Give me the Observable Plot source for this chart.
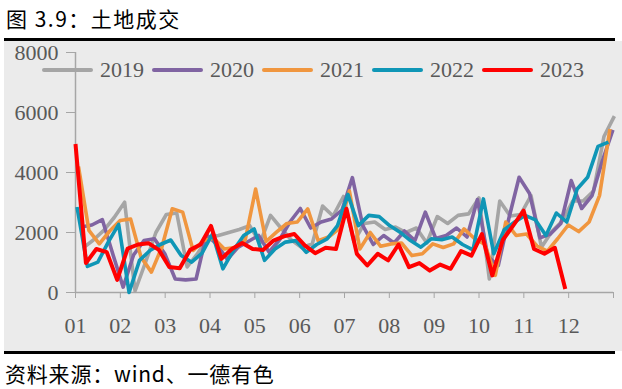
<!DOCTYPE html>
<html><head><meta charset="utf-8">
<script src="https://cdn.jsdelivr.net/npm/d3@7"></script>
<script src="https://cdn.jsdelivr.net/npm/@observablehq/plot@0.6"></script>
<style>
html,body{margin:0;padding:0;background:#fff;}
body{width:622px;height:389px;position:relative;font-family:"Noto Sans CJK SC",sans-serif;}
#title{position:absolute;left:6px;top:5px;font-size:21px;line-height:26px;letter-spacing:1.5px;color:#000;white-space:nowrap;}
.rule{position:absolute;left:4px;width:611px;height:3px;background:#000;}
#panel{position:absolute;left:4px;top:41px;width:618px;height:310px;background:#ebebeb;}
#chart{position:absolute;left:0;top:41px;}
#legend{position:absolute;left:42px;top:58px;height:24px;display:flex;align-items:center;font-family:"Liberation Serif",serif;font-size:22px;line-height:24px;color:#595959;white-space:nowrap;}
#legend .sw{display:inline-block;width:51px;height:4px;border-radius:2px;margin-right:7px;}
#legend .lb{display:inline-block;width:43px;margin-right:9px;}
#caption{position:absolute;left:5px;top:362px;font-size:21px;line-height:22px;letter-spacing:0.8px;color:#000;white-space:nowrap;}
</style></head>
<body>
<div id="title">图 3.9：土地成交</div>
<div class="rule" style="top:38px"></div>
<div id="panel"></div>
<div id="chart"></div>
<div id="legend"></div>
<div class="rule" style="top:351px"></div>
<div id="caption">资料来源：wind、一德有色</div>
<script>
// ---- data (weekly land transactions, by year) ----
const years = ["2019", "2020", "2021", "2022", "2023"];
const colors = ["#a5a5a5", "#8064a2", "#f0963f", "#0f96b6", "#ff0000"];
// first weekly date of each year, as day offset from Jan 1
const startDays = [5, 4, 2, 1, 0];
const v2019 = [1480, 1750, 2070, 2500, 3010, 50, 1000, 2000, 2600, 2650, 850, 1300, 1840, 1900, 2000, 2100, 2230, 1650, 2570, 2150, 1750, 1500, 1620, 2880, 2550, 3200, 1700, 2300, 2350, 2100, 2180, 2000, 2150, 1650, 2530, 2300, 2570, 2620, 3150, 450, 3050, 2550, 2600, 3230, 1510, 2030, 2380, 3050, 3050, 3380, 5200, 5880];
const v2020 = [2180, 2250, 2430, 1290, 180, 1250, 1730, 1790, 1290, 450, 420, 450, 1930, 1600, 1100, 1500, 1700, 1900, 1350, 1750, 2350, 2800, 2150, 2350, 2450, 2750, 3830, 2230, 1600, 1900, 1650, 2050, 1730, 2680, 1800, 1900, 2150, 1850, 3100, 1200, 900, 2450, 3840, 3300, 1820, 1950, 2300, 3730, 2800, 3230, 4400, 5420];
const v2021 = [4200, 2070, 1620, 2050, 2400, 2450, 1180, 680, 1510, 2790, 2680, 1400, 1730, 1800, 1450, 1500, 1750, 3450, 1700, 2010, 2300, 2350, 2790, 1730, 1850, 2120, 3380, 1450, 2000, 1540, 1620, 1650, 1230, 1290, 1620, 1500, 1620, 2120, 1800, 1600, 570, 2350, 1900, 1950, 1550, 1380, 1800, 2250, 2030, 2350, 3230, 5450];
const v2022 = [2850, 870, 1010, 1680, 2270, 0, 1070, 1400, 1600, 1750, 1230, 1010, 1310, 1950, 790, 1400, 1900, 2120, 1070, 1450, 1680, 1730, 1340, 1600, 1790, 2230, 3270, 2230, 2570, 2530, 2230, 2010, 1730, 1510, 1790, 1760, 1850, 1600, 1420, 3120, 1290, 2090, 2350, 2570, 2420, 1900, 2650, 2350, 3450, 3840, 4870, 5010];
const v2023 = [4950, 980, 1450, 1345, 420, 1460, 1600, 1645, 1420, 850, 810, 1420, 1600, 2220, 1120, 1450, 1650, 1450, 1420, 1730, 1870, 1950, 1570, 1310, 1490, 1450, 2790, 1290, 900, 1290, 1070, 1600, 845, 980, 730, 930, 790, 1380, 1230, 1950, 570, 1750, 2230, 2730, 1450, 1290, 1490, 120];
const seriesValues = [v2019, v2020, v2021, v2022, v2023];
const monthLabels = ["01", "02", "03", "04", "05", "06", "07", "08", "09", "10", "11", "12", ""];
const yTicks = [0, 2000, 4000, 6000, 8000];
const xSpanDays = 361.4;

// ---- build ----
const monthTicks = monthLabels.map((m, k) => k * xSpanDays / 12);
const labelOf = new Map(monthTicks.map((t, k) => [t, monthLabels[k]]));
const rows = seriesValues.map((vals, s) => vals.map((v, i) => ({x: startDays[s] + 7 * i, v, year: years[s]})));

const axisColor = "#a6a6a6";
const textColor = "#595959";

const chart = Plot.plot({
  width: 622,
  height: 310,
  marginLeft: 75,
  marginRight: 9,
  marginTop: 11,
  marginBottom: 59,
  style: {background: "transparent", fontFamily: "Liberation Serif, serif", fontSize: "22px", color: textColor, overflow: "visible"},
  x: {type: "linear", domain: [0, xSpanDays]},
  y: {domain: [0, 8000]},
  marks: [
    Plot.axisY({ticks: yTicks, tickFormat: d => String(d), tickSize: 9, tickPadding: 8, stroke: axisColor, fill: textColor, fontSize: 22, label: null}),
    Plot.axisX({ticks: monthTicks, tickFormat: d => labelOf.get(d), tickSize: 6, tickPadding: 19, stroke: axisColor, fill: textColor, fontSize: 22, label: null}),
    Plot.ruleY([0], {stroke: axisColor, strokeWidth: 1.5}),
    Plot.ruleX([0], {stroke: axisColor, strokeWidth: 1.5}),
    ...rows.map((r, s) => Plot.line(r, {x: "x", y: "v", stroke: colors[s], strokeWidth: s === 4 ? 4 : 3.6, strokeLinejoin: "round", strokeLinecap: "butt"}))
  ]
});
document.getElementById("chart").appendChild(chart);

// ---- legend ----
const legend = document.getElementById("legend");
years.forEach((y, s) => {
  const sw = document.createElement("span");
  sw.className = "sw";
  sw.style.background = colors[s];
  const lb = document.createElement("span");
  lb.className = "lb";
  lb.textContent = y;
  legend.appendChild(sw);
  legend.appendChild(lb);
});
</script>
</body></html>
